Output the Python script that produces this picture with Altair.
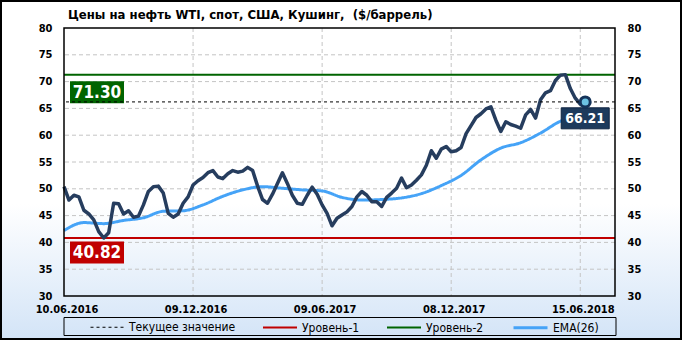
import altair as alt
import pandas as pd

# ---------------- data ----------------
start_date = "2016-06-10"          # first weekly observation
price = [50.4, 47.9, 48.8, 48.5, 46.0, 45.3, 44.2, 42.0, 40.82, 41.8,
         47.3, 47.2, 45.3, 45.9, 44.7, 44.9, 47.0, 49.5, 50.4, 50.5,
         49.2, 45.4, 44.7, 45.3, 47.3, 48.5, 50.7, 51.5, 52.1, 53.0,
         53.4, 52.2, 51.9, 52.8, 53.4, 53.1, 53.3, 54.0, 53.4, 50.5,
         48.0, 47.3, 49.0, 51.0, 53.0, 51.0, 48.8, 47.3, 47.1, 48.8,
         50.3, 49.0, 47.0, 45.4, 43.1, 44.5, 45.1, 45.7, 46.7, 48.5,
         49.5, 48.8, 47.6, 47.6, 46.7, 48.4, 49.2, 50.1, 52.0, 50.2,
         50.7, 51.6, 52.6, 54.4, 57.1, 55.7, 57.4, 57.9, 56.9, 57.1,
         57.7, 60.3, 61.8, 63.3, 64.0, 64.9, 65.3, 62.8, 60.7, 62.5,
         62.0, 61.7, 61.3, 63.8, 64.8, 63.2, 66.6, 67.9, 68.3, 70.2,
         71.2, 71.3, 68.7, 66.9, 65.8, 66.21]

ema_week = [0, 4, 8, 12, 16, 20, 24, 28, 32, 36, 40, 44, 48, 52,
            56, 60, 64, 68, 72, 76, 80, 84, 88, 92, 96, 100, 104, 105]
ema_values = [42.2, 43.7, 43.5, 44.1, 44.6, 45.8, 45.9, 47.0, 48.6, 49.8, 50.4, 50.1, 49.8, 49.6,
              48.4, 47.9, 48.0, 48.3, 49.1, 50.6, 52.5, 55.4, 57.6, 58.6, 60.4, 62.6, 63.7, 64.0]

level_names = ["Текущее значение", "Уровень-1", "Уровень-2"]
level_values = [66.21, 40.82, 71.30]
ema_name = "EMA(26)"
series_names = level_names + [ema_name]
series_colors = ["#000000", "#c00000", "#006400", "#45a3f7"]
series_dashes = [[3, 3], [1, 0], [1, 0], [1, 0]]
series_widths = [1, 2, 2, 3]

y_ticks = [30, 35, 40, 45, 50, 55, 60, 65, 70, 75, 80]
x_tick_dates = ["2016-06-10", "2016-12-09", "2017-06-09", "2017-12-08", "2018-06-08"]
x_tick_labels = ["10.06.2016", "09.12.2016", "09.06.2017", "08.12.2017", "15.06.2018"]
x_domain = ["2016-06-10", "2018-07-27"]

title_text = "Цены на нефть WTI, спот, США, Кушинг,\u00a0 ($/баррель)"

# ---------------- styling ----------------
FONT = "'DejaVu Sans Condensed', 'DejaVu Sans', sans-serif"
W, H = 551, 268            # plot area
CW, CH = 682, 340          # whole canvas
OX, OY = 64, 28            # plot origin in the canvas
PRICE_COLOR = "#263d5e"


def dt(s):
    y, m, d = (int(p) for p in s.split("-"))
    return alt.DateTime(year=y, month=m, date=d, utc=True)


dates = pd.date_range(start_date, periods=len(price), freq="7D").strftime("%Y-%m-%d").tolist()
price_df = pd.DataFrame({"date": dates, "price": price})
ema_df = pd.DataFrame({"date": [dates[i] for i in ema_week], "value": ema_values, "series": ema_name})
levels_df = pd.DataFrame({"series": level_names, "value": level_values, "date": dates[0]})
last_df = price_df.tail(1).copy()
last_df["label"] = last_df["price"].map(lambda v: f"{v:.2f}")
hgrid_df = pd.DataFrame({"v": y_ticks[1:-1]})
vgrid_df = pd.DataFrame({"date": x_tick_dates[1:]})
one = pd.DataFrame({"k": [0]})

x_scale = alt.Scale(type="utc", domain=[dt(x_domain[0]), dt(x_domain[1])])
y_scale = alt.Scale(domain=[y_ticks[0], y_ticks[-1]], nice=False, zero=False)

expr = "''"
for d, lab in reversed(list(zip(x_tick_dates, x_tick_labels))):
    expr = "utcFormat(datum.value, '%Y-%m-%d') == '" + d + "' ? '" + lab + "' : " + expr

x_axis = alt.Axis(values=[dt(d) for d in x_tick_dates], labelExpr=expr, grid=False, domain=False,
                  ticks=False, labelFont=FONT, labelFontSize=11, labelFontWeight="bold",
                  labelColor="black", labelPadding=7, labelOffset=2.5, labelFlush=False,
                  labelOverlap=False, zindex=1, title=None)


def X(field="date"):
    return alt.X(f"{field}:T", scale=x_scale, axis=x_axis)


def y_axis(orient):
    return alt.Axis(orient=orient, values=y_ticks, grid=False, domain=False, ticks=False,
                    labelFont=FONT, labelFontSize=11, labelFontWeight="bold", labelColor="black",
                    labelPadding=12, labelFlush=False, zindex=1, title=None)


legend = alt.Legend(orient="none", legendX=26, legendY=281, direction="horizontal", title=None,
                    symbolType="stroke", symbolSize=1156, labelFont=FONT, labelFontSize=12,
                    labelColor="black", labelOffset=4, columnPadding=23, padding=0)

color_enc = alt.Color("series:N", scale=alt.Scale(domain=series_names, range=series_colors), legend=legend)
dash_enc = alt.StrokeDash("series:N", scale=alt.Scale(domain=series_names, range=series_dashes), legend=legend)
width_enc = alt.StrokeWidth("series:N", scale=alt.Scale(type="ordinal", domain=series_names, range=series_widths),
                            legend=legend)

# ---------------- layers ----------------
gradient = alt.Gradient(gradient="linear", x1=0, x2=0, y1=0, y2=1,
                        stops=[alt.GradientStop(color="#ffffff", offset=0),
                               alt.GradientStop(color="#ffffff", offset=0.6),
                               alt.GradientStop(color="#d3e4f7", offset=1)])

bg = alt.Chart(one).mark_rect(fill=gradient, strokeWidth=0).encode(
    x=alt.value(-OX), x2=alt.value(CW - OX), y=alt.value(-OY), y2=alt.value(CH - OY))

hgrid = alt.Chart(hgrid_df).mark_rule(color="#c4c4c4", strokeDash=[4, 3], strokeWidth=1).encode(
    y=alt.Y("v:Q", scale=y_scale, axis=None))
vgrid = alt.Chart(vgrid_df).mark_rule(color="#c4c4c4", strokeDash=[4, 3], strokeWidth=1).encode(
    x=X("date"))

legend_box = alt.Chart(one).mark_rect(filled=False, stroke="black", strokeWidth=1).encode(
    x=alt.value(0), x2=alt.value(W + 1), y=alt.value(289.5), y2=alt.value(307.5))

lvl_rules = alt.Chart(levels_df).transform_filter(
    alt.FieldOneOfPredicate(field="series", oneOf=level_names[1:])
).mark_rule().encode(
    y=alt.Y("value:Q", scale=y_scale, axis=None), color=color_enc, strokeDash=dash_enc, strokeWidth=width_enc)

cur_rule = alt.Chart(levels_df).transform_filter(
    alt.FieldOneOfPredicate(field="series", oneOf=level_names[:1])
).mark_rule().encode(
    y=alt.Y("value:Q", scale=y_scale, axis=None), color=color_enc, strokeDash=dash_enc, strokeWidth=width_enc)

ema_line = alt.Chart(ema_df).mark_line(interpolate="monotone").encode(
    x=X("date"), y=alt.Y("value:Q", scale=y_scale, axis=y_axis("right")),
    color=color_enc, strokeDash=dash_enc, strokeWidth=width_enc)

price_line = alt.Chart(price_df).mark_line(color=PRICE_COLOR, strokeWidth=3.5, strokeJoin="round").encode(
    x=X("date"), y=alt.Y("price:Q", scale=y_scale, axis=y_axis("left")))

box_layers = []
box_specs = [(level_names[2], "#006400", 17.6), (level_names[1], "#c00000", 14.4)]
for name, fill, dy in box_specs:
    sub = levels_df[levels_df["series"] == name].copy()
    sub["label"] = sub["value"].map(lambda v: f"{v:.2f}")
    box_layers.append(alt.Chart(sub).mark_point(
        shape="M-1,-0.4074L1,-0.4074L1,0.4074L-1,0.4074Z", size=2916, filled=True, fill=fill,
        opacity=1, strokeWidth=0, xOffset=33, yOffset=dy).encode(
        x=X("date"), y=alt.Y("value:Q", scale=y_scale, axis=None)))
    box_layers.append(alt.Chart(sub).mark_text(
        font=FONT, fontSize=17, fontWeight="bold", color="white", align="center", baseline="middle",
        xOffset=33, yOffset=dy + 1).encode(
        x=X("date"), y=alt.Y("value:Q", scale=y_scale, axis=None), text="label:N"))

last_box = alt.Chart(last_df).mark_point(
    shape="M-1,-0.4375L1,-0.4375L1,0.4375L-1,0.4375Z", size=2304, filled=True, fill="#1d3a5c",
    stroke="#0f2440", strokeWidth=1, opacity=1, yOffset=16.4).encode(
    x=X("date"), y=alt.Y("price:Q", scale=y_scale, axis=None))
last_text = alt.Chart(last_df).mark_text(
    font=FONT, fontSize=14, fontWeight="bold", color="white", align="center", baseline="middle",
    yOffset=17.4).encode(
    x=X("date"), y=alt.Y("price:Q", scale=y_scale, axis=None), text="label:N")
marker = alt.Chart(last_df).mark_point(
    shape="circle", filled=True, fill="#6cc3e4", stroke="#14335a", strokeWidth=3, size=100, opacity=1).encode(
    x=X("date"), y=alt.Y("price:Q", scale=y_scale, axis=None))

frame = alt.Chart(one).mark_rect(filled=False, stroke="black", strokeWidth=1.5).encode(
    x=alt.value(0), x2=alt.value(W), y=alt.value(0), y2=alt.value(H))

title = alt.Chart(one).mark_text(
    text=title_text, align="left", baseline="alphabetic", font=FONT, fontSize=13, fontWeight="bold",
    color="black").encode(x=alt.value(4), y=alt.value(-9))

border = alt.Chart(one).mark_rect(filled=False, stroke="black", strokeWidth=2).encode(
    x=alt.value(-OX + 1), x2=alt.value(CW - OX - 1), y=alt.value(-OY + 1), y2=alt.value(CH - OY - 1))

chart = alt.layer(
    bg, hgrid, vgrid, legend_box, lvl_rules, ema_line, price_line, *box_layers,
    cur_rule, last_box, last_text, marker, frame, title, border
).resolve_axis(y="independent").properties(
    width=W, height=H, padding=0
).configure_view(stroke=None)

chart.save("out.html", embed_options={"renderer": "svg", "actions": False})
